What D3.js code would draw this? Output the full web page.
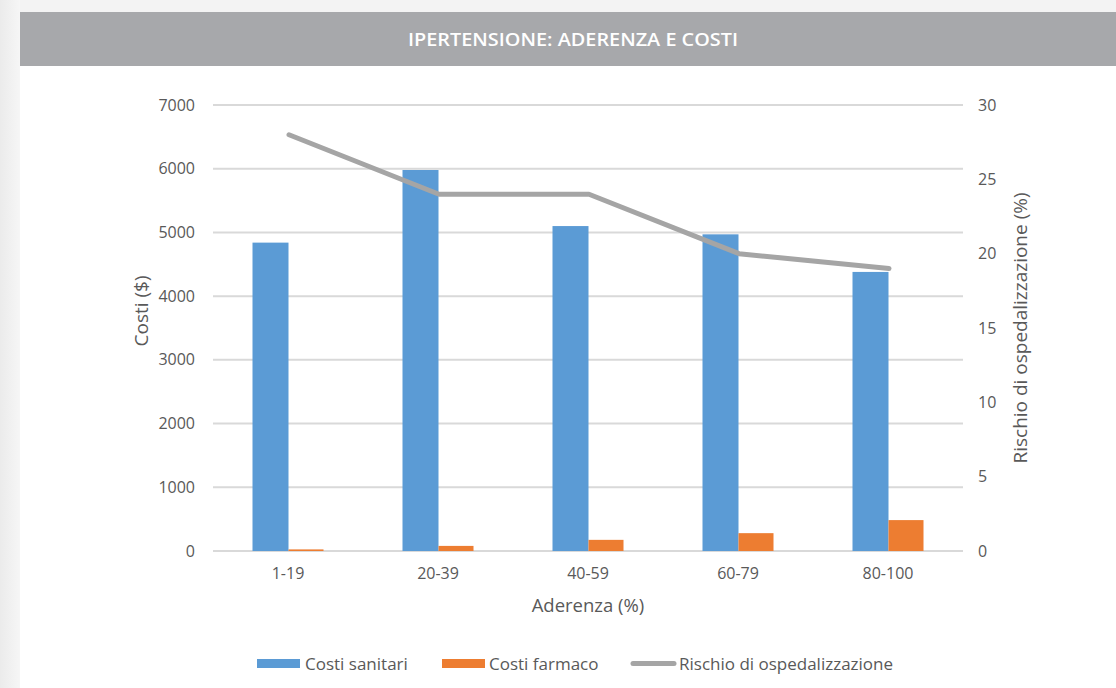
<!DOCTYPE html>
<html><head><meta charset="utf-8">
<script src="https://cdn.jsdelivr.net/npm/d3@7"></script>
<style>
body{margin:0;background:#fff;}
svg{display:block;font-family:"Open Sans",sans-serif;}
</style></head><body>
<svg id="c" width="1116" height="688"></svg>
<script>
const categories = ["1-19","20-39","40-59","60-79","80-100"];
const costiSanitari = [4840, 5980, 5100, 4970, 4380];
const costiFarmaco = [25, 80, 175, 280, 485];
const rischio = [28, 24, 24, 20, 19];
const leftTicks = [0,1000,2000,3000,4000,5000,6000,7000];
const rightTicks = [0,5,10,15,20,25,30];
const title = "IPERTENSIONE: ADERENZA E COSTI";

const svg = d3.select("#c");
const defs = svg.append("defs");
const g1 = defs.append("linearGradient").attr("id","lg").attr("x1",0).attr("x2",1);
g1.append("stop").attr("offset",0).attr("stop-color","#ebebeb");
g1.append("stop").attr("offset",1).attr("stop-color","#f6f6f6");
svg.append("rect").attr("width",1116).attr("height",688).attr("fill","#f3f3f3");
svg.append("rect").attr("x",0).attr("y",0).attr("width",20).attr("height",688).attr("fill","url(#lg)");
svg.append("rect").attr("x",20).attr("y",12).attr("width",1096).attr("height",676).attr("fill","#fff");
svg.append("rect").attr("x",20).attr("y",12).attr("width",1096).attr("height",54).attr("fill","#a7a8ab");
svg.append("text").attr("x",573).attr("y",46).attr("text-anchor","middle")
  .attr("fill","#fff").attr("font-size",17.5).attr("font-weight",600)
  .style("font-family","'Open Sans'").attr("textLength",330).attr("lengthAdjust","spacingAndGlyphs")
  .text(title);

const x = d3.scaleBand().domain(categories).range([213,963]);
const yL = d3.scaleLinear().domain([0,7000]).range([551,105]);
const yR = d3.scaleLinear().domain([0,30]).range([551,105]);

svg.append("g").selectAll("line").data(leftTicks).join("line")
  .attr("x1",213).attr("x2",963).attr("y1",d=>yL(d)).attr("y2",d=>yL(d))
  .attr("stroke","#d9d9d9").attr("stroke-width",2);

const axL = svg.append("g").attr("transform","translate(213,0)")
  .call(d3.axisLeft(yL).tickValues(leftTicks).tickFormat(d3.format("d")).tickSize(0).tickPadding(18));
const axR = svg.append("g").attr("transform","translate(963,0)")
  .call(d3.axisRight(yR).tickValues(rightTicks).tickFormat(d3.format("d")).tickSize(0).tickPadding(15));
const axB = svg.append("g").attr("transform","translate(0,551)")
  .call(d3.axisBottom(x).tickSize(0).tickPadding(17));
[axL,axR,axB].forEach(a=>{
  a.select(".domain").remove();
  a.selectAll("text").attr("fill","#595959").attr("font-size",16).style("font-family","'Open Sans'");
});

const bw = 36;
svg.append("g").selectAll("rect").data(costiSanitari).join("rect")
  .attr("x",(d,i)=>x(categories[i])+x.bandwidth()/2-bw+0.5).attr("width",bw)
  .attr("y",d=>yL(d)).attr("height",d=>yL(0)-yL(d)).attr("fill","#5b9bd5");
svg.append("g").selectAll("rect").data(costiFarmaco).join("rect")
  .attr("x",(d,i)=>x(categories[i])+x.bandwidth()/2+0.5).attr("width",bw-1)
  .attr("y",d=>yL(d)).attr("height",d=>yL(0)-yL(d)).attr("fill","#ed7d31");

const line = d3.line().x((d,i)=>x(categories[i])+x.bandwidth()/2+1).y(d=>yR(d));
svg.append("path").datum(rischio).attr("d",line).attr("fill","none")
  .attr("stroke","#a5a5a5").attr("stroke-width",5).attr("stroke-linecap","round").attr("stroke-linejoin","round");

svg.append("text").attr("x",588).attr("y",612).attr("text-anchor","middle")
  .attr("fill","#595959").attr("font-size",18.5).text("Aderenza (%)");
svg.append("text").attr("transform","translate(148,311) rotate(-90)").attr("text-anchor","middle")
  .attr("fill","#595959").attr("font-size",19).text("Costi ($)");
svg.append("text").attr("transform","translate(1027,328) rotate(-90)").attr("text-anchor","middle")
  .attr("fill","#595959").attr("font-size",19).text("Rischio di ospedalizzazione (%)");

const leg = svg.append("g").attr("font-size",17).attr("fill","#595959");
const items = [
  {label:"Costi sanitari", type:"rect", color:"#5b9bd5", x:257, tx:305},
  {label:"Costi farmaco", type:"rect", color:"#ed7d31", x:442, tx:489},
  {label:"Rischio di ospedalizzazione", type:"line", color:"#a5a5a5", x:631, tx:679}
];
items.forEach(it=>{
  if(it.type==="rect"){
    leg.append("rect").attr("x",it.x).attr("y",659).attr("width",43).attr("height",9).attr("fill",it.color);
  } else {
    leg.append("line").attr("x1",it.x+2).attr("x2",it.x+43).attr("y1",663.5).attr("y2",663.5)
      .attr("stroke",it.color).attr("stroke-width",5).attr("stroke-linecap","round");
  }
  leg.append("text").attr("x",it.tx).attr("y",670).attr("fill","#595959").text(it.label);
});
</script>
</body></html>
